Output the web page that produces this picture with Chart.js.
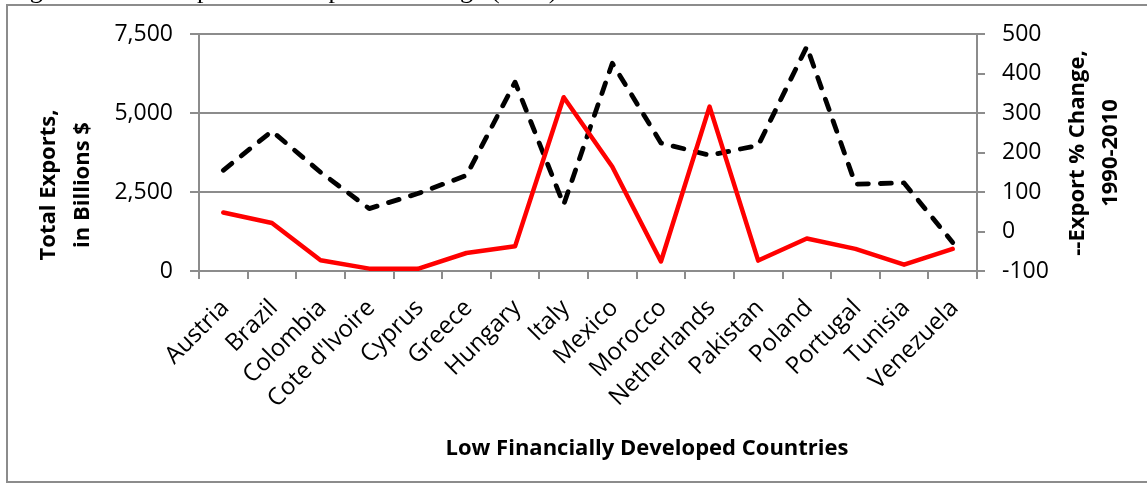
<!DOCTYPE html>
<html><head><meta charset="utf-8">
<script src="https://cdn.jsdelivr.net/npm/chart.js@4.4.1/dist/chart.umd.min.js"></script>
<style>
html,body{margin:0;padding:0;background:#fff;overflow:hidden;}
#wrap{position:relative;width:1147px;height:483px;}
#cap{position:absolute;left:8px;top:-22px;font:26px "Liberation Serif",serif;line-height:24px;white-space:nowrap;color:#000;z-index:2;}
canvas{position:absolute;left:0;top:0;}
</style></head><body>
<div id="wrap"><canvas id="c" width="1147" height="483"></canvas><div id="cap">Figure 4: Total Exports and Export % Change (LFD)</div></div>
<script>
const categories = ["Austria","Brazil","Colombia","Cote d'Ivoire","Cyprus","Greece","Hungary","Italy","Mexico","Morocco","Netherlands","Pakistan","Poland","Portugal","Tunisia","Venezuela"];
const totalExports = [1850,1520,340,75,70,570,780,5500,3300,300,5200,330,1030,700,200,700];
const exportChange = [155,254,150,58,96,142,378,68,426,224,193,218,468,120,123,-28];
const leftTickValues = [0,2500,5000,7500];
const rightTickValues = [-100,0,100,200,300,400,500];
const leftTitle = ["Total Exports,","in Billions $"];
const rightTitle = ["--Export % Change,","1990-2010"];
const xTitle = "Low Financially Developed Countries";

const GRAY = '#8c8c8c';
Chart.defaults.font.family = '"Open Sans"';
Chart.defaults.color = '#000';

const frame = {
  id:'frame',
  beforeDraw(chart){
    const ctx = chart.ctx; ctx.save();
    ctx.strokeStyle = GRAY; ctx.lineWidth = 2;
    ctx.strokeRect(7,5,1200,477);
    ctx.restore();
  }
};
const titles = {
  id:'titles',
  afterDraw(chart){
    const ctx = chart.ctx; ctx.save();
    ctx.fillStyle = '#000'; ctx.font = 'bold 22px "Open Sans"';
    ctx.textAlign = 'center'; ctx.textBaseline = 'middle';
    ctx.save(); ctx.translate(49,185); ctx.rotate(-Math.PI/2);
    ctx.fillText(leftTitle[0],0,0); ctx.fillText(leftTitle[1],0,34); ctx.restore();
    ctx.save(); ctx.translate(1078,153); ctx.rotate(-Math.PI/2);
    ctx.fillText(rightTitle[0],0,0); ctx.fillText(rightTitle[1],0,33); ctx.restore();
    ctx.fillText(xTitle,647,449);
    ctx.restore();
  }
};

new Chart(document.getElementById('c'), {
  type:'line',
  data:{
    labels:categories,
    datasets:[
      {label:'Total Exports', data:totalExports, yAxisID:'y', borderColor:'#ff0000', borderWidth:4.5, pointRadius:0, tension:0, borderJoinStyle:'round', borderCapStyle:'round', fill:false},
      {label:'Export % Change', data:exportChange, yAxisID:'y1', borderColor:'#000000', borderWidth:4.8, borderDash:[11,12], borderCapStyle:'round', borderJoinStyle:'round', pointRadius:0, tension:0, fill:false}
    ]
  },
  options:{
    responsive:false, animation:false, devicePixelRatio:1,
    layout:{padding:{left:20,right:0,top:34,bottom:0}},
    plugins:{legend:{display:false}, tooltip:{enabled:false}},
    scales:{
      x:{
        offset:true,
        grid:{offset:true, drawOnChartArea:false, drawTicks:true, tickLength:8, color:GRAY, lineWidth:2},
        border:{display:true, color:GRAY, width:2},
        ticks:{autoSkip:false, minRotation:45, maxRotation:45, font:{size:24}, padding:15, labelOffset:2},
        afterFit(s){ s.height = 483-271; }
      },
      y:{
        position:'left', min:leftTickValues[0], max:leftTickValues[leftTickValues.length-1],
        afterBuildTicks(s){ s.ticks = leftTickValues.map(v=>({value:v})); },
        grid:{color:GRAY, lineWidth:2, tickLength:9},
        border:{display:true, color:GRAY, width:2},
        ticks:{font:{size:23}, padding:17, callback:v=>v.toLocaleString('en-US')},
        afterFit(s){ s.width = 179; }
      },
      y1:{
        position:'right', min:rightTickValues[0], max:rightTickValues[rightTickValues.length-1],
        afterBuildTicks(s){ s.ticks = rightTickValues.map(v=>({value:v})); },
        grid:{drawOnChartArea:false, color:GRAY, lineWidth:2, tickLength:8},
        border:{display:true, color:GRAY, width:2},
        ticks:{font:{size:23}, padding:17},
        afterFit(s){ s.width = 1147-977; }
      }
    }
  },
  plugins:[frame, titles]
});
</script>
</body></html>
